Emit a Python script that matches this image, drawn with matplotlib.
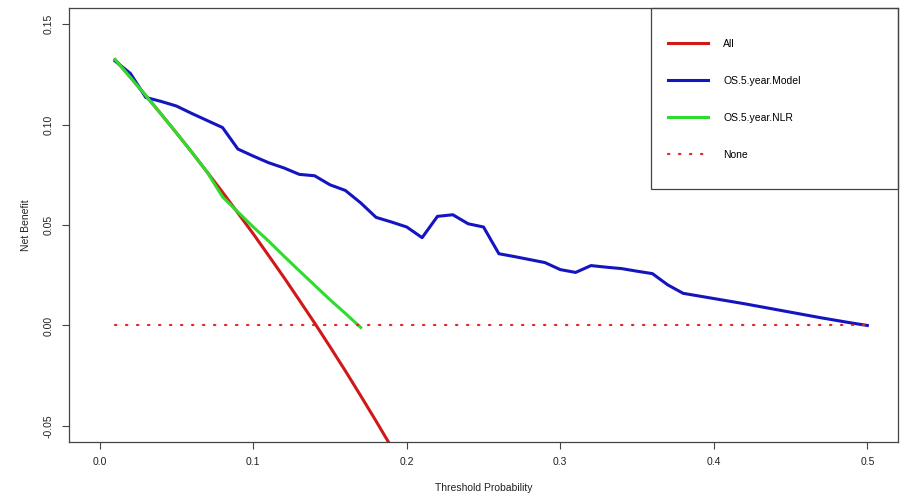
import matplotlib
matplotlib.use("Agg")
from matplotlib import pyplot as plt
from matplotlib.patches import Rectangle
import numpy as np

plt.rcParams['font.family'] = ['Liberation Sans', 'DejaVu Sans']

# threshold probabilities
thresh = [0.01, 0.02, 0.03, 0.04, 0.05, 0.06, 0.07, 0.08, 0.09, 0.10,
          0.11, 0.12, 0.13, 0.14, 0.15, 0.16, 0.17, 0.18, 0.19, 0.20,
          0.21, 0.22, 0.23, 0.24, 0.25, 0.26, 0.27, 0.28, 0.29, 0.30,
          0.31, 0.32, 0.33, 0.34, 0.35, 0.36, 0.37, 0.38, 0.39, 0.40,
          0.41, 0.42, 0.43, 0.44, 0.45, 0.46, 0.47, 0.48, 0.49, 0.50]

# net benefit, treat all (red)
nb_all = [0.1323, 0.1235, 0.1144, 0.1052, 0.0958, 0.0862, 0.0763, 0.0663, 0.0560, 0.0456,
          0.0348, 0.0239, 0.0126, 0.0012, -0.0106, -0.0226, -0.0350, -0.0476, -0.0605, -0.0738]

# model (blue)
nb_model = [0.1316, 0.1254, 0.1135, 0.1115, 0.1092, 0.1055, 0.1020, 0.0985, 0.0878, 0.0843,
            0.0810, 0.0784, 0.0752, 0.0745, 0.0700, 0.0672, 0.0610, 0.0538, 0.0515, 0.0490,
            0.0437, 0.0543, 0.0551, 0.0506, 0.0490, 0.0357, 0.0343, 0.0328, 0.0313, 0.0278,
            0.0264, 0.0298, 0.0290, 0.0283, 0.0270, 0.0258, 0.0202, 0.0160, 0.0147, 0.0134,
            0.0121, 0.0108, 0.0094, 0.0080, 0.0066, 0.0052, 0.0038, 0.0025, 0.0012, 0.0000]

# NLR (green)
nb_nlr = [0.1323, 0.1235, 0.1144, 0.1052, 0.0958, 0.0862, 0.0763, 0.0640, 0.0565, 0.0490,
          0.0420, 0.0345, 0.0272, 0.0200, 0.0128, 0.0060, -0.0010]

labels = ["All", "OS.5.year.Model", "OS.5.year.NLR", "None"]

fig = plt.figure(figsize=(9, 5), dpi=100)
ax = fig.add_axes([0.0767, 0.116, 0.9211, 0.868])

lw = 2.2
l_all, = ax.plot(thresh[:len(nb_all)], nb_all, color="#d01818", lw=lw, label=labels[0])
l_mod, = ax.plot(thresh, nb_model, color="#1414c0", lw=lw, label=labels[1])
l_nlr, = ax.plot(thresh[:len(nb_nlr)], nb_nlr, color="#2edc2e", lw=lw, label=labels[2])
l_none, = ax.plot(thresh, np.zeros(len(thresh)), color="#e02a2a", lw=1.6,
                  linestyle=(0, (0.6, 4.35)), dash_capstyle="round", label=labels[3])

ax.set_xlim(-0.02, 0.52)
ax.set_ylim(-0.058, 0.158)
ax.set_xticks([0.0, 0.1, 0.2, 0.3, 0.4, 0.5])
ax.set_xticklabels(["0.0", "0.1", "0.2", "0.3", "0.4", "0.5"])
ax.set_yticks([-0.05, 0.0, 0.05, 0.10, 0.15])
ax.set_yticklabels(["-0.05", "0.00", "0.05", "0.10", "0.15"], rotation=90, va="center")
ax.tick_params(direction="out", length=5, width=0.8, color="#444444",
               labelsize=7.5, pad=6, labelcolor="#222222")
for s in ax.spines.values():
    s.set_color("#444444")
    s.set_linewidth(0.9)

ax.set_xlabel("Threshold Probability", fontsize=7.5, labelpad=11, color="#222222")
ax.set_ylabel("Net Benefit", fontsize=7.5, labelpad=9, color="#222222")

# legend box
ax.add_patch(Rectangle((0.702, 0.583), 0.298, 0.417, transform=ax.transAxes,
                       fill=False, edgecolor="#444444", lw=0.9, clip_on=False, zorder=5))
leg = ax.legend(handles=[l_all, l_mod, l_nlr, l_none], loc="upper left",
                bbox_to_anchor=(0.7226, 0.929), frameon=False, borderpad=0,
                borderaxespad=0, fontsize=7.5, handlelength=3.85, handletextpad=1.45,
                labelspacing=2.6)

fig.savefig("out.png", dpi=100)
